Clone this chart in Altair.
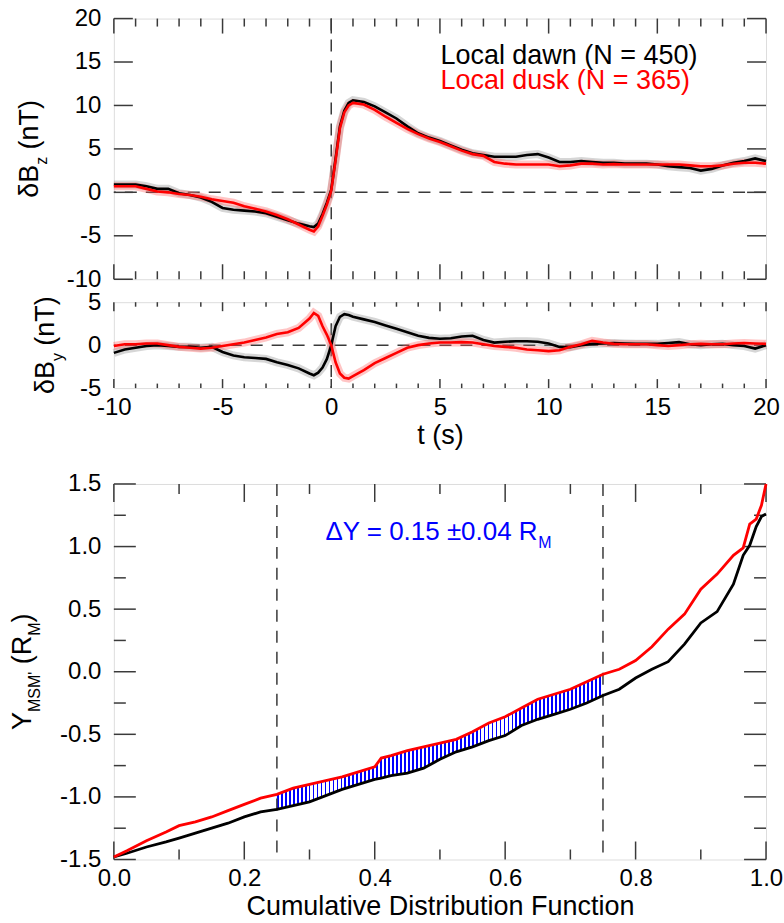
import altair as alt
import pandas as pd

# ---------------------------------------------------------------- data
# superposed-epoch time (s)
t = [-10, -9.5, -9, -8.5, -8, -7.5, -7, -6.5, -6, -5.5, -5, -4.5, -4, -3.5, -3,
     -2.5, -2, -1.5, -1, -0.8, -0.6, -0.4, -0.2, 0, 0.2, 0.4, 0.6, 0.8,
     1, 1.5, 2, 2.5, 3, 3.5, 4, 4.5, 5, 5.5, 6, 6.5, 7, 7.5, 8, 8.5, 9, 9.5,
     10, 10.5, 11, 11.5, 12, 12.5, 13, 13.5, 14, 14.5, 15, 15.5, 16, 16.5, 17,
     17.5, 18, 18.5, 19, 19.5, 20]

# dBz (nT)
dawn_bz = [0.9, 0.9, 0.9, 0.7, 0.4, 0.4, -0.1, -0.3, -0.6, -1.1, -1.8, -2.0, -2.1,
           -2.2, -2.4, -2.8, -3.2, -3.6, -3.9,
           -4.0, -3.6, -2.5, -1.2, 0.3, 3.9, 7.6, 9.4, 10.3,
           10.6, 10.4, 9.9, 9.2, 8.5, 7.6, 6.8, 6.3, 5.9, 5.4, 4.9, 4.5, 4.3, 4.1,
           4.1, 4.1, 4.3, 4.4, 4.0, 3.5, 3.5, 3.6, 3.5, 3.4, 3.4, 3.3, 3.3, 3.3,
           3.2, 3.0, 2.9, 2.8, 2.5, 2.7, 3.1, 3.4, 3.6, 3.9, 3.6]
dusk_bz = [0.7, 0.7, 0.7, 0.4, 0.1, 0.0, -0.2, -0.3, -0.5, -0.8, -1.0, -1.2, -1.6,
           -1.9, -2.2, -2.6, -3.1, -3.7, -4.3,
           -4.5, -3.9, -2.7, -1.4, 0.2, 3.7, 7.4, 9.2, 10.0,
           10.3, 10.1, 9.5, 8.7, 8.0, 7.3, 6.7, 6.2, 5.8, 5.3, 4.8, 4.4, 4.2, 3.5,
           3.3, 3.2, 3.2, 3.2, 3.2, 3.0, 3.1, 3.3, 3.3, 3.2, 3.25, 3.2, 3.2, 3.2,
           3.2, 3.2, 3.2, 3.1, 3.0, 3.0, 3.1, 3.3, 3.4, 3.4, 3.3]

# dBy (nT)
dawn_by = [-0.9, -0.5, -0.3, -0.1, 0.0, -0.1, -0.2, -0.2, -0.3, -0.2, -0.8, -1.2,
           -1.4, -1.5, -1.6, -2.0, -2.3, -2.7, -3.3,
           -3.5, -3.2, -2.6, -1.6, 0.0, 2.2, 3.3, 3.6, 3.5,
           3.3, 3.0, 2.7, 2.3, 1.9, 1.5, 1.1, 0.85, 0.75, 0.8, 1.0, 1.1, 0.6, 0.3,
           0.4, 0.45, 0.45, 0.4, 0.2, -0.2, -0.25, 0.0, 0.15, 0.2, 0.25, 0.2, 0.15,
           0.15, 0.15, 0.25, 0.35, 0.1, 0.0, 0.1, 0.15, 0.0, -0.1, -0.4, 0.0]
dusk_by = [-0.1, 0.1, 0.1, 0.2, 0.2, 0.0, -0.2, -0.3, -0.4, -0.3, -0.1, 0.1, 0.3,
           0.6, 0.9, 1.3, 1.5, 2.0, 3.1,
           3.75, 3.4, 2.2, 1.2, 0.0, -2.0, -3.3, -3.8, -3.9,
           -3.6, -2.9, -2.1, -1.5, -0.9, -0.3, 0.0, 0.2, 0.3, 0.3, 0.35, 0.3, 0.1,
           -0.1, -0.2, -0.3, -0.5, -0.6, -0.7, -0.6, -0.2, 0.1, 0.5, 0.3, 0.15, 0.1,
           0.1, 0.1, 0.0, -0.1, 0.0, 0.1, 0.15, 0.1, 0.1, 0.2, 0.25, 0.2, 0.15]

# cumulative distribution of the Y_MSM' position (R_M)
cdf = [0, 0.02, 0.05, 0.08, 0.1, 0.125, 0.15, 0.175, 0.2, 0.225, 0.25, 0.275, 0.3,
       0.325, 0.35, 0.375, 0.4, 0.41, 0.425, 0.45, 0.475, 0.5, 0.525, 0.55, 0.575,
       0.6, 0.625, 0.65, 0.675, 0.7, 0.725, 0.75, 0.775, 0.8, 0.825, 0.85, 0.875,
       0.9, 0.925, 0.95, 0.965, 0.975, 0.985, 0.993, 1.0]
dusk_y = [-1.48, -1.43, -1.35, -1.28, -1.23, -1.20, -1.16, -1.11, -1.06, -1.01,
          -0.98, -0.93, -0.90, -0.87, -0.84, -0.80, -0.76, -0.69, -0.67, -0.63,
          -0.60, -0.57, -0.54, -0.48, -0.41, -0.36, -0.29, -0.22, -0.18, -0.14,
          -0.08, -0.02, 0.02, 0.09, 0.20, 0.34, 0.46, 0.66, 0.78, 0.93, 0.99,
          1.18, 1.22, 1.33, 1.50]
dawn_y = [-1.48, -1.45, -1.40, -1.36, -1.33, -1.29, -1.25, -1.21, -1.16, -1.12,
          -1.10, -1.07, -1.04, -0.99, -0.94, -0.90, -0.86, -0.85, -0.83, -0.81,
          -0.77, -0.70, -0.64, -0.60, -0.55, -0.51, -0.43, -0.38, -0.34, -0.30,
          -0.25, -0.19, -0.14, -0.05, 0.02, 0.08, 0.22, 0.39, 0.48, 0.70, 0.93,
          1.01, 1.16, 1.24, 1.26]

# axis tick values
t_major = [-10, -5, 0, 5, 10, 15, 20]
t_minor = [v for v in range(-10, 21) if v % 5]
bz_major = [-10, -5, 0, 5, 10, 15, 20]
by_major = [-5, 0, 5]
cdf_major = [0.0, 0.2, 0.4, 0.6, 0.8, 1.0]
cdf_minor = [0.1, 0.3, 0.5, 0.7, 0.9]
ym_major = [-1.5, -1.0, -0.5, 0.0, 0.5, 1.0, 1.5]
ym_minor = [-1.25, -0.75, -0.25, 0.25, 0.75, 1.25]
quartiles = [0.25, 0.75]

legend_lines = ["Local dawn (N = 450)", "Local dusk (N = 365)"]
shift_text = "\u0394Y = 0.15 \u00b10.04 R"

# ---------------------------------------------------------------- style
FONT = "Liberation Sans"
INK = "#3a3a3a"
BLUE = "#0000ff"
DASH = [12, 9]
W = 653
H_BZ, H_BY, H_CDF = 261, 86, 376
TICK_FS, TITLE_FS, SUB_FS = 24, 27, 16

# Arial/Liberation Sans advance widths (1/1000 em) for placing split labels
ADV = {"\u03b4": 556, "\u0394": 668, "B": 667, "z": 500, "y": 500, " ": 278,
       "(": 333, ")": 333, "n": 556, "T": 611, "Y": 667, "M": 833, "S": 667,
       "'": 191, "R": 722, "=": 584, ".": 278, "\u00b1": 549,
       "0": 556, "1": 556, "4": 556, "5": 556}


def text_width(s, size):
    return sum(ADV[c] for c in s) * size / 1000.0


ONE = pd.DataFrame({"k": [0]})


def text_layer(txt, x, y, size, color="black", angle=0, align="left"):
    return alt.Chart(ONE).mark_text(
        text=txt, font=FONT, fontSize=size, color=color, angle=angle,
        align=align, baseline="alphabetic"
    ).encode(x=alt.value(x), y=alt.value(y))


def rotated_title(parts, x_main, x_sub, y_mid):
    """Vertical axis title assembled from normal and subscript pieces."""
    sized = [(txt, SUB_FS if sub else TITLE_FS, sub) for txt, sub in parts]
    total = sum(text_width(txt, fs) for txt, fs, _ in sized)
    pos = y_mid + total / 2
    layers = []
    for txt, fs, sub in sized:
        body = txt.lstrip(" ")
        lead = text_width(txt[:len(txt) - len(body)], fs)
        layers.append(text_layer(body, x_sub if sub else x_main, pos - lead, fs, angle=270))
        pos -= text_width(txt, fs)
    return layers


def minus_expr(fmt):
    return "replace(format(datum.value, '%s'), '\u2212', '-')" % fmt


def y_axis(values, fmt):
    return alt.Axis(values=values, labelExpr=minus_expr(fmt), title=None,
                    domain=False, ticks=False, tickSize=0, grid=False,
                    labelFont=FONT, labelFontSize=TICK_FS, labelColor="black",
                    labelPadding=13, labelOverlap=False, labelBound=False,
                    labelFlush=False)


def x_axis(values, fmt, title):
    return alt.Axis(values=values, labelExpr=minus_expr(fmt), title=title,
                    domain=False, ticks=False, tickSize=0, grid=False,
                    labelFont=FONT, labelFontSize=TICK_FS, labelColor="black",
                    labelPadding=7, labelOverlap=False, labelBound=False,
                    labelFlush=False, titleFont=FONT, titleFontSize=TITLE_FS,
                    titleFontWeight="normal", titleColor="black", titlePadding=3)


def x_ticks(values, xenc, h, length):
    base = alt.Chart(pd.DataFrame({"v": values})).mark_rule(color=INK, strokeWidth=1.5)
    return [base.encode(x=xenc("v"), y=alt.value(0), y2=alt.value(length)),
            base.encode(x=xenc("v"), y=alt.value(h), y2=alt.value(h - length))]


def y_ticks(values, yenc, length):
    base = alt.Chart(pd.DataFrame({"v": values})).mark_rule(color=INK, strokeWidth=1.5)
    return [base.encode(y=yenc("v"), x=alt.value(0), x2=alt.value(length)),
            base.encode(y=yenc("v"), x=alt.value(W), x2=alt.value(W - length))]


def zero_lines(xenc, yenc, xs, ys):
    rules = []
    if ys:
        rules.append(alt.Chart(pd.DataFrame({"v": ys})).mark_rule(
            color=INK, strokeWidth=1.5, strokeDash=DASH).encode(y=yenc("v")))
    if xs:
        rules.append(alt.Chart(pd.DataFrame({"v": xs})).mark_rule(
            color=INK, strokeWidth=1.5, strokeDash=DASH).encode(x=xenc("v")))
    return rules


def series_layers(df, xenc, yenc, dawn_col, dusk_col, width=2.6):
    base = alt.Chart(df)
    return [
        base.mark_line(color="#8a8a8a", strokeWidth=8, opacity=0.35).encode(x=xenc("t"), y=yenc(dawn_col)),
        base.mark_line(color="#ff5a5a", strokeWidth=8, opacity=0.35).encode(x=xenc("t"), y=yenc(dusk_col)),
        base.mark_line(color="black", strokeWidth=width).encode(x=xenc("t"), y=yenc(dawn_col)),
        base.mark_line(color="#ff0000", strokeWidth=width).encode(x=xenc("t"), y=yenc(dusk_col)),
    ]


ts = pd.DataFrame({"t": t, "dawn_bz": dawn_bz, "dusk_bz": dusk_bz,
                   "dawn_by": dawn_by, "dusk_by": dusk_by})

t_scale = alt.Scale(domain=[-10, 20], nice=False, zero=False)

# ---------------------------------------------------------------- dBz panel
def x_bz(f):
    return alt.X(f"{f}:Q", scale=t_scale, axis=None)


def y_bz(f):
    return alt.Y(f"{f}:Q", scale=alt.Scale(domain=[-10, 20], nice=False, zero=False),
                 axis=y_axis(bz_major, "d"))


bz_layers = (zero_lines(x_bz, y_bz, [0], [0])
             + x_ticks(t_minor, x_bz, H_BZ, 8) + x_ticks(t_major, x_bz, H_BZ, 15)
             + y_ticks(bz_major, y_bz, 19)
             + series_layers(ts, x_bz, y_bz, "dawn_bz", "dusk_bz")
             + rotated_title([("\u03b4B", False), ("z", True), (" (nT)", False)],
                             -76, -67, H_BZ / 2)
             + [text_layer(legend_lines[0], 327, 45, 27, "black"),
                text_layer(legend_lines[1], 327, 71, 27, "#ff0000")])
bz_panel = alt.layer(*bz_layers).properties(width=W, height=H_BZ)

# ---------------------------------------------------------------- dBy panel
def x_by(f):
    return alt.X(f"{f}:Q", scale=t_scale, axis=x_axis(t_major, "d", "t (s)"))


def y_by(f):
    return alt.Y(f"{f}:Q", scale=alt.Scale(domain=[-5, 5], nice=False, zero=False),
                 axis=y_axis(by_major, "d"))


by_layers = (zero_lines(x_by, y_by, [0], [0])
             + x_ticks(t_minor, x_by, H_BY, 4.5) + x_ticks(t_major, x_by, H_BY, 9)
             + series_layers(ts, x_by, y_by, "dawn_by", "dusk_by")
             + rotated_title([("\u03b4B", False), ("y", True), (" (nT)", False)],
                             -60, -51, H_BY / 2))
by_panel = alt.layer(*by_layers).properties(width=W, height=H_BY)

# ---------------------------------------------------------------- CDF panel
cd = pd.DataFrame({"t": cdf, "dawn": dawn_y, "dusk": dusk_y})


def x_cdf(f):
    return alt.X(f"{f}:Q", scale=alt.Scale(domain=[0, 1], nice=False, zero=False),
                 axis=x_axis(cdf_major, ".1f", "Cumulative Distribution Function"))


def y_cdf(f):
    return alt.Y(f"{f}:Q", scale=alt.Scale(domain=[-1.5, 1.5], nice=False, zero=False),
                 axis=y_axis(ym_major, ".1f"))


# vertical blue hatching between the two curves, inter-quartile range
n_stripes = 82
stops = []
for i in range(n_stripes):
    a, b = i / n_stripes, (i + 0.45) / n_stripes
    stops += [alt.GradientStop(color=BLUE, offset=a), alt.GradientStop(color=BLUE, offset=b),
              alt.GradientStop(color="white", offset=b),
              alt.GradientStop(color="white", offset=(i + 1) / n_stripes)]
hatch = alt.LinearGradient(gradient="linear", stops=stops, x1=0, x2=1, y1=0, y2=0)

hatch_area = alt.Chart(cd).transform_filter(
    "datum.t >= 0.25 && datum.t <= 0.75"
).mark_area(fill=hatch, opacity=1).encode(
    x=x_cdf("t"), y=y_cdf("dawn"), y2=alt.Y2("dusk")
)

ann_fs, ann_sub = 26, 16
ann_w = text_width(shift_text, ann_fs) + text_width("M", ann_sub)
ann_x = 438 - 113 - ann_w / 2
cdf_layers = ([hatch_area]
              + zero_lines(x_cdf, y_cdf, quartiles, [])
              + x_ticks(cdf_minor, x_cdf, H_CDF, 10) + x_ticks(cdf_major, x_cdf, H_CDF, 18)
              + y_ticks(ym_minor, y_cdf, 12) + y_ticks(ym_major, y_cdf, 22)
              + [alt.Chart(cd).mark_line(color="black", strokeWidth=2.8).encode(x=x_cdf("t"), y=y_cdf("dawn")),
                 alt.Chart(cd).mark_line(color="#ff0000", strokeWidth=2.8).encode(x=x_cdf("t"), y=y_cdf("dusk"))]
              + rotated_title([("Y", False), ("MSM'", True), (" (R", False),
                               ("M", True), (")", False)], -83, -74, H_CDF / 2)
              + [text_layer(shift_text, ann_x, 56, ann_fs, BLUE),
                 text_layer("M", ann_x + text_width(shift_text, ann_fs), 64, ann_sub, BLUE)])
cdf_panel = alt.layer(*cdf_layers).properties(width=W, height=H_CDF)

# ---------------------------------------------------------------- assemble
upper = alt.vconcat(bz_panel, by_panel, spacing=23, bounds="flush")
chart = alt.vconcat(upper, cdf_panel, spacing=22).properties(
    padding={"left": 8, "top": 5, "right": 0, "bottom": 0}
).configure_view(stroke=INK, strokeWidth=2).configure(background="white")

chart.save("out.html", embed_options={"renderer": "svg", "actions": False})
